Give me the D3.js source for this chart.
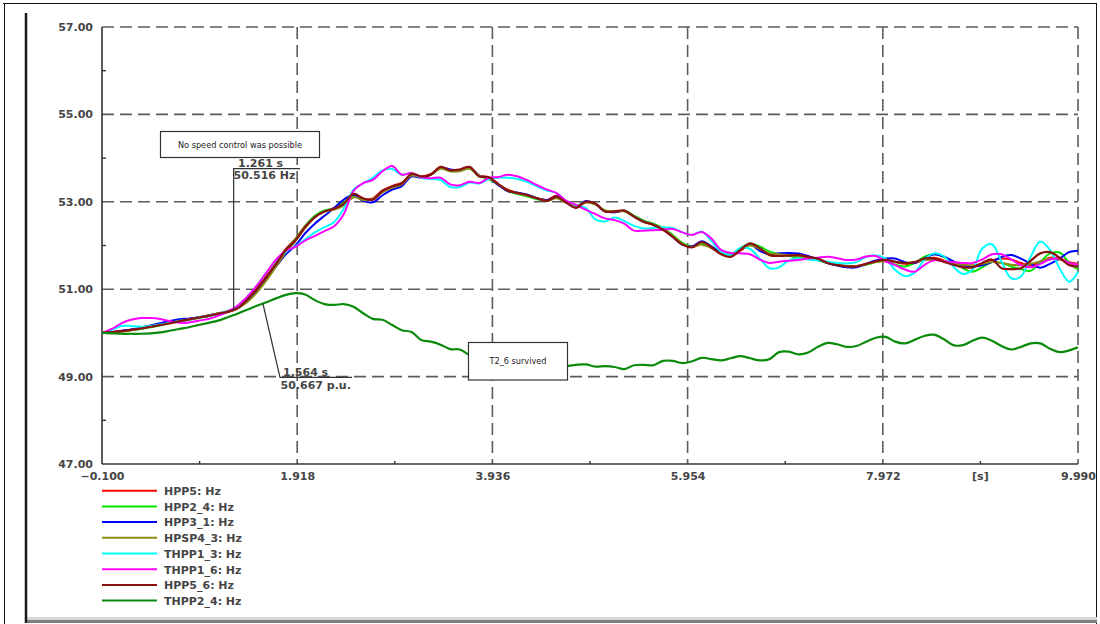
<!DOCTYPE html>
<html>
<head>
<meta charset="utf-8">
<script src="https://cdn.jsdelivr.net/npm/d3@7"></script>
<style>
  body { margin: 0; background: #fff; }
  svg { display: block; }
  text { font-family: "DejaVu Sans", sans-serif; }
</style>
</head>
<body>
<svg id="chart" width="1100" height="624"></svg>
<script>
// Sample times [s]
const time = [-0.1,
  0.0, 0.1, 0.2, 0.3, 0.4, 0.5, 0.6, 0.7, 0.8, 0.9,
  1.0, 1.1, 1.2, 1.3, 1.4, 1.5, 1.6, 1.7, 1.8, 1.9,
  2.0, 2.1, 2.2, 2.3, 2.4, 2.5, 2.6, 2.7, 2.8, 2.9,
  3.0, 3.1, 3.2, 3.3, 3.4, 3.5, 3.6, 3.7, 3.8, 3.9,
  4.0, 4.1, 4.2, 4.3, 4.4, 4.5, 4.6, 4.7, 4.8, 4.9,
  5.0, 5.1, 5.2, 5.3, 5.4, 5.5, 5.6, 5.7, 5.8, 5.9,
  6.0, 6.1, 6.2, 6.3, 6.4, 6.5, 6.6, 6.7, 6.8, 6.9,
  7.0, 7.1, 7.2, 7.3, 7.4, 7.5, 7.6, 7.7, 7.8, 7.9,
  8.0, 8.1, 8.2, 8.3, 8.4, 8.5, 8.6, 8.7, 8.8, 8.9,
  9.0, 9.1, 9.2, 9.3, 9.4, 9.5, 9.6, 9.7, 9.8, 9.9,
  9.99];

// Frequencies [Hz]
const hpp5 = [50.00,
  50.02, 50.04, 50.07, 50.10, 50.14, 50.18, 50.23, 50.27, 50.31, 50.35,
  50.39, 50.44, 50.48, 50.56, 50.77, 51.02, 51.30, 51.60, 51.92, 52.15,
  52.45, 52.66, 52.78, 52.86, 52.98, 53.15, 53.06, 53.08, 53.26, 53.36,
  53.44, 53.62, 53.58, 53.64, 53.78, 53.72, 53.73, 53.78, 53.60, 53.56,
  53.40, 53.27, 53.20, 53.14, 53.08, 53.04, 53.14, 53.00, 52.88, 53.00,
  52.95, 52.79, 52.77, 52.79, 52.67, 52.56, 52.48, 52.36, 52.21, 52.04,
  51.97, 52.06, 51.95, 51.82, 51.76, 51.88, 52.02, 51.92, 51.80, 51.78,
  51.78, 51.77, 51.73, 51.68, 51.60, 51.56, 51.53, 51.53, 51.58, 51.63,
  51.66, 51.62, 51.58, 51.60, 51.68, 51.72, 51.66, 51.58, 51.52, 51.52,
  51.58, 51.66, 51.70, 51.68, 51.60, 51.55, 51.62, 51.72, 51.70, 51.62,
  51.58];

const hpp2_4 = [50.00,
  50.01, 50.03, 50.06, 50.09, 50.13, 50.17, 50.22, 50.26, 50.30, 50.34,
  50.38, 50.43, 50.48, 50.56, 50.74, 50.98, 51.27, 51.58, 51.90, 52.14,
  52.44, 52.68, 52.80, 52.85, 52.98, 53.14, 53.04, 53.06, 53.24, 53.34,
  53.42, 53.62, 53.56, 53.62, 53.76, 53.70, 53.72, 53.76, 53.58, 53.52,
  53.38, 53.24, 53.18, 53.12, 53.06, 53.02, 53.10, 52.98, 52.90, 53.00,
  52.94, 52.80, 52.76, 52.80, 52.68, 52.57, 52.50, 52.40, 52.24, 52.06,
  51.98, 52.04, 51.96, 51.84, 51.80, 51.94, 52.04, 51.98, 51.86, 51.80,
  51.76, 51.72, 51.70, 51.66, 51.60, 51.55, 51.51, 51.52, 51.56, 51.62,
  51.66, 51.56, 51.52, 51.60, 51.74, 51.80, 51.74, 51.62, 51.48, 51.40,
  51.50, 51.62, 51.60, 51.52, 51.46, 51.42, 51.62, 51.82, 51.84, 51.60,
  51.45];

const hpp3_1 = [50.00,
  50.02, 50.05, 50.08, 50.12, 50.17, 50.22, 50.27, 50.31, 50.33, 50.36,
  50.40, 50.44, 50.49, 50.57, 50.74, 50.98, 51.25, 51.52, 51.80, 52.00,
  52.28, 52.50, 52.68, 52.86, 53.05, 53.16, 53.02, 52.99, 53.15, 53.28,
  53.36, 53.58, 53.55, 53.62, 53.78, 53.74, 53.72, 53.78, 53.60, 53.54,
  53.38, 53.24, 53.21, 53.16, 53.08, 53.04, 53.12, 52.99, 52.88, 53.02,
  52.95, 52.78, 52.76, 52.79, 52.66, 52.55, 52.48, 52.37, 52.20, 52.02,
  51.98, 52.10, 51.98, 51.84, 51.78, 51.92, 52.02, 51.88, 51.80, 51.82,
  51.83, 51.82, 51.76, 51.68, 51.60, 51.54, 51.50, 51.50, 51.58, 51.66,
  51.70, 51.70, 51.62, 51.60, 51.70, 51.80, 51.75, 51.64, 51.55, 51.52,
  51.55, 51.62, 51.74, 51.78, 51.70, 51.58, 51.49, 51.58, 51.70, 51.85,
  51.88];

const hpsp4_3 = [50.00,
  50.01, 50.03, 50.06, 50.10, 50.14, 50.18, 50.22, 50.27, 50.31, 50.35,
  50.40, 50.45, 50.50, 50.56, 50.70, 50.92, 51.20, 51.52, 51.84, 52.10,
  52.40, 52.64, 52.78, 52.82, 52.92, 53.10, 53.04, 53.06, 53.22, 53.32,
  53.40, 53.60, 53.56, 53.62, 53.76, 53.70, 53.70, 53.76, 53.60, 53.54,
  53.40, 53.26, 53.19, 53.14, 53.08, 53.02, 53.08, 52.98, 52.90, 52.98,
  52.94, 52.80, 52.78, 52.78, 52.66, 52.55, 52.48, 52.38, 52.22, 52.04,
  51.96, 52.02, 51.94, 51.82, 51.78, 51.90, 52.00, 51.92, 51.82, 51.80,
  51.78, 51.76, 51.72, 51.68, 51.62, 51.56, 51.53, 51.53, 51.57, 51.62,
  51.64, 51.62, 51.60, 51.62, 51.66, 51.68, 51.64, 51.60, 51.56, 51.55,
  51.58, 51.62, 51.60, 51.56, 51.55, 51.58, 51.64, 51.70, 51.68, 51.60,
  51.56];

const thpp1_3 = [50.00,
  50.07, 50.16, 50.16, 50.14, 50.16, 50.19, 50.23, 50.28, 50.31, 50.35,
  50.39, 50.44, 50.50, 50.61, 50.82, 51.08, 51.38, 51.66, 51.86, 51.98,
  52.14, 52.30, 52.42, 52.54, 52.85, 53.28, 53.42, 53.55, 53.72, 53.75,
  53.62, 53.66, 53.55, 53.52, 53.50, 53.34, 53.34, 53.44, 53.42, 53.52,
  53.55, 53.55, 53.52, 53.45, 53.35, 53.26, 53.20, 53.02, 52.92, 52.86,
  52.60, 52.55, 52.64, 52.56, 52.45, 52.39, 52.40, 52.42, 52.40, 52.30,
  52.24, 52.32, 52.10, 51.86, 51.78, 51.95, 51.92, 51.70, 51.48, 51.50,
  51.66, 51.71, 51.68, 51.66, 51.63, 51.60, 51.59, 51.62, 51.74, 51.77,
  51.70, 51.44, 51.30, 51.38, 51.67, 51.82, 51.76, 51.52, 51.35, 51.45,
  51.93, 52.03, 51.63, 51.25, 51.29, 51.74, 52.09, 51.90, 51.48, 51.17,
  51.40];

const thpp1_6 = [50.00,
  50.09, 50.22, 50.30, 50.34, 50.34, 50.32, 50.27, 50.23, 50.24, 50.28,
  50.32, 50.39, 50.49, 50.62, 50.82, 51.08, 51.38, 51.68, 51.88, 51.97,
  52.11, 52.22, 52.33, 52.44, 52.72, 53.25, 53.43, 53.50, 53.70, 53.82,
  53.62, 53.66, 53.56, 53.54, 53.55, 53.40, 53.38, 53.46, 53.43, 53.55,
  53.57, 53.62, 53.58, 53.49, 53.38, 53.28, 53.20, 53.02, 52.93, 52.82,
  52.72, 52.62, 52.58, 52.50, 52.34, 52.34, 52.35, 52.36, 52.38, 52.30,
  52.24, 52.31, 52.16, 51.90, 51.83, 51.82, 51.80, 51.68, 51.60, 51.63,
  51.65, 51.67, 51.70, 51.72, 51.74, 51.71, 51.67, 51.68, 51.75, 51.76,
  51.64, 51.55, 51.45, 51.40, 51.55, 51.66, 51.64, 51.62, 51.60, 51.60,
  51.68, 51.80, 51.80, 51.68, 51.55, 51.50, 51.58, 51.68, 51.70, 51.60,
  51.56];

const hpp5_6 = [50.00,
  50.02, 50.04, 50.07, 50.10, 50.14, 50.18, 50.22, 50.27, 50.31, 50.35,
  50.39, 50.44, 50.48, 50.56, 50.76, 51.00, 51.28, 51.58, 51.90, 52.12,
  52.42, 52.65, 52.78, 52.84, 52.95, 53.18, 53.08, 53.05, 53.25, 53.35,
  53.42, 53.64, 53.58, 53.62, 53.80, 53.72, 53.74, 53.80, 53.58, 53.56,
  53.40, 53.25, 53.20, 53.15, 53.08, 53.02, 53.12, 52.98, 52.86, 53.00,
  52.96, 52.78, 52.78, 52.80, 52.66, 52.54, 52.47, 52.36, 52.20, 52.02,
  51.96, 52.08, 51.96, 51.80, 51.74, 51.90, 52.05, 51.94, 51.78, 51.76,
  51.77, 51.78, 51.74, 51.70, 51.60, 51.55, 51.52, 51.52, 51.58, 51.64,
  51.67, 51.63, 51.60, 51.62, 51.70, 51.70, 51.63, 51.56, 51.50, 51.50,
  51.60, 51.68, 51.48, 51.46, 51.48, 51.65, 51.82, 51.85, 51.72, 51.55,
  51.52];

const thpp2_4 = [50.00,
  49.99, 49.98, 49.98, 49.98, 49.99, 50.01, 50.05, 50.09, 50.13, 50.18,
  50.23, 50.28, 50.36, 50.44, 50.53, 50.62, 50.70, 50.79, 50.87, 50.91,
  50.88, 50.75, 50.66, 50.64, 50.66, 50.60, 50.45, 50.32, 50.30, 50.18,
  50.06, 50.02, 49.84, 49.80, 49.73, 49.63, 49.62, 49.49, 49.44, 49.40,
  49.36, 49.33, 49.31, 49.29, 49.27, 49.26, 49.25, 49.24, 49.27, 49.28,
  49.23, 49.24, 49.22, 49.17, 49.26, 49.27, 49.26, 49.36, 49.36, 49.31,
  49.35, 49.43, 49.40, 49.37, 49.42, 49.47, 49.42, 49.37, 49.40, 49.56,
  49.57, 49.51, 49.55, 49.68, 49.77, 49.74, 49.68, 49.70, 49.80, 49.89,
  49.91, 49.80, 49.76, 49.84, 49.93, 49.96, 49.86, 49.72, 49.72, 49.82,
  49.89, 49.82, 49.70, 49.62, 49.68, 49.76, 49.76, 49.64, 49.56, 49.60,
  49.67];

const seriesNames  = ["HPP5: Hz", "HPP2_4: Hz", "HPP3_1: Hz", "HPSP4_3: Hz",
                      "THPP1_3: Hz", "THPP1_6: Hz", "HPP5_6: Hz", "THPP2_4: Hz"];
const seriesValues = [hpp5, hpp2_4, hpp3_1, hpsp4_3, thpp1_3, thpp1_6, hpp5_6, thpp2_4];
const seriesColors = ["#ff0000", "#00e600", "#0000ff", "#8c8c14",
                      "#00ffff", "#ff00ff", "#8b1010", "#0a8a0a"];

// Axis ticks
const xMajor = [-0.100, 1.918, 3.936, 5.954, 7.972, 9.990];
const xMinor = [0.909, 2.927, 4.945, 6.963, 8.981];
const yMajor = [47, 49, 51, 53, 55, 57];
const yMinor = [48, 50, 52, 54, 56];
const xUnit = "[s]";

// Markers placed on the curves
const markerMain  = { t: 1.261, v: 50.516, top: "1.261 s", bottom: "50.516 Hz" };
const markerT2    = { t: 1.564, v: 50.667, top: "1.564 s", bottom: "50.667 p.u." };
const noteSpeed   = "No speed control was possible";
const noteSurvive = "T2_6 survived";

const svg = d3.select("#chart");
const x = d3.scaleLinear().domain([-0.1, 9.99]).range([102, 1078]);
const y = d3.scaleLinear().domain([47, 57]).range([464, 27]);

const labelFont = { family: "DejaVu Sans", size: 11, weight: "bold", fill: "#454545" };
function styleLabel(sel) {
  return sel.attr("font-family", labelFont.family).attr("font-size", labelFont.size)
    .attr("font-weight", labelFont.weight).attr("fill", labelFont.fill);
}

// Window frame
const frame = svg.append("g");
frame.append("line").attr("x1", 3).attr("x2", 1097).attr("y1", 3.5).attr("y2", 3.5)
  .attr("stroke", "#111").attr("stroke-width", 1);
frame.append("line").attr("x1", 4.5).attr("x2", 4.5).attr("y1", 3).attr("y2", 624)
  .attr("stroke", "#111").attr("stroke-width", 1);
frame.append("line").attr("x1", 1096.5).attr("x2", 1096.5).attr("y1", 3).attr("y2", 624)
  .attr("stroke", "#111").attr("stroke-width", 1);
frame.append("rect").attr("x", 26).attr("y", 617).attr("width", 1071).attr("height", 3)
  .attr("fill", "#d6d6d6");
frame.append("rect").attr("x", 26).attr("y", 620).attr("width", 1071).attr("height", 3)
  .attr("fill", "#7d7d7d");
frame.append("line").attr("x1", 26).attr("x2", 26).attr("y1", 13).attr("y2", 623)
  .attr("stroke", "#1a1a1a").attr("stroke-width", 2.5);

// Dashed grid
const grid = svg.append("g").attr("stroke", "#5c5c5c").attr("stroke-width", 1.6)
  .attr("stroke-dasharray", "12,6").attr("fill", "none");
grid.selectAll(".gy").data(yMajor.filter(d => d !== 47)).join("line")
  .attr("x1", x(-0.1)).attr("x2", x(9.99))
  .attr("y1", d => y(d)).attr("y2", d => y(d));
grid.selectAll(".gx").data(xMajor.filter(d => d !== -0.1)).join("line")
  .attr("x1", d => x(d)).attr("x2", d => x(d))
  .attr("y1", y(57)).attr("y2", y(47));

// Axes
const axisColor = "#333";
const yAxis = svg.append("g").attr("transform", `translate(${x(-0.1)},0)`)
  .call(d3.axisLeft(y).tickValues(yMajor).tickFormat(d3.format(".2f")).tickSize(0).tickPadding(9));
const xAxis = svg.append("g").attr("transform", `translate(0,${y(47)})`)
  .call(d3.axisBottom(x).tickValues(xMajor).tickFormat(d3.format(".3f")).tickSize(0).tickPadding(8));
[yAxis, xAxis].forEach(g => {
  g.select(".domain").remove();
  styleLabel(g.selectAll("text"));
});
styleLabel(xAxis.append("text").attr("x", x(8.981)).attr("y", 8).attr("dy", "0.71em")
  .attr("text-anchor", "middle")).text(xUnit);

svg.append("line").attr("x1", x(-0.1)).attr("x2", x(-0.1)).attr("y1", y(57)).attr("y2", y(47))
  .attr("stroke", axisColor).attr("stroke-width", 1.6);
svg.append("line").attr("x1", x(-0.1)).attr("x2", x(9.99)).attr("y1", y(47)).attr("y2", y(47))
  .attr("stroke", axisColor).attr("stroke-width", 1.6);
svg.selectAll(".ym").data(yMinor).join("line")
  .attr("x1", x(-0.1)).attr("x2", x(-0.1) + 4)
  .attr("y1", d => y(d)).attr("y2", d => y(d))
  .attr("stroke", axisColor).attr("stroke-width", 1.4);
svg.selectAll(".xm").data(xMinor).join("line")
  .attr("x1", d => x(d)).attr("x2", d => x(d))
  .attr("y1", y(47)).attr("y2", y(47) - 3)
  .attr("stroke", axisColor).attr("stroke-width", 1.4);

// Curves
const line = d3.line()
  .x((d, i) => x(time[i]))
  .y(d => y(d))
  .curve(d3.curveCatmullRom.alpha(0.5));

svg.append("g").attr("fill", "none").attr("stroke-width", 2).attr("stroke-linejoin", "round")
  .selectAll("path").data(seriesValues).join("path")
  .attr("stroke", (d, i) => seriesColors[i])
  .attr("stroke-width", (d, i) => (i === 6 || i === 7) ? 2.2 : 2)
  .attr("d", line);

// Marker labels
const ann = svg.append("g").attr("stroke", "#333").attr("stroke-width", 1.2).attr("fill", "none");
const pA = [x(markerMain.t), y(markerMain.v)];
ann.append("polyline").attr("points", `${pA[0]},${pA[1]} ${pA[0]},168.7 300,168.7`);
const pB = [x(markerT2.t), y(markerT2.v)];
ann.append("polyline").attr("points", `${pB[0]},${pB[1]} 280,377.3 352,377.3`);

const labelText = svg.append("g");
styleLabel(labelText.append("text").attr("x", 238).attr("y", 166.5)).text(markerMain.top);
styleLabel(labelText.append("text").attr("x", 233.5).attr("y", 178.5)).text(markerMain.bottom);
styleLabel(labelText.append("text").attr("x", 283).attr("y", 375.5)).text(markerT2.top);
styleLabel(labelText.append("text").attr("x", 280.5).attr("y", 389)).text(markerT2.bottom);

// Note boxes
function noteBox(x0, y0, w, h, label) {
  const g = svg.append("g");
  g.append("rect").attr("x", x0).attr("y", y0).attr("width", w).attr("height", h)
    .attr("fill", "#fff").attr("stroke", "#333").attr("stroke-width", 1.2);
  g.append("text").attr("x", x0 + w / 2).attr("y", y0 + h / 2 + 3)
    .attr("text-anchor", "middle").attr("font-family", "Liberation Sans")
    .attr("font-size", 8.2).attr("fill", "#222").text(label);
}
noteBox(160.5, 131.5, 159, 26, noteSpeed);
noteBox(468.5, 342.5, 99, 37.5, noteSurvive);

// Legend
const legend = svg.append("g");
seriesNames.forEach((name, i) => {
  const ly = 490.7 + i * 15.7;
  legend.append("line").attr("x1", 102).attr("x2", 157).attr("y1", ly).attr("y2", ly)
    .attr("stroke", seriesColors[i]).attr("stroke-width", 2);
  styleLabel(legend.append("text").attr("x", 164).attr("y", ly + 4.3)).text(name);
});
</script>
</body>
</html>
